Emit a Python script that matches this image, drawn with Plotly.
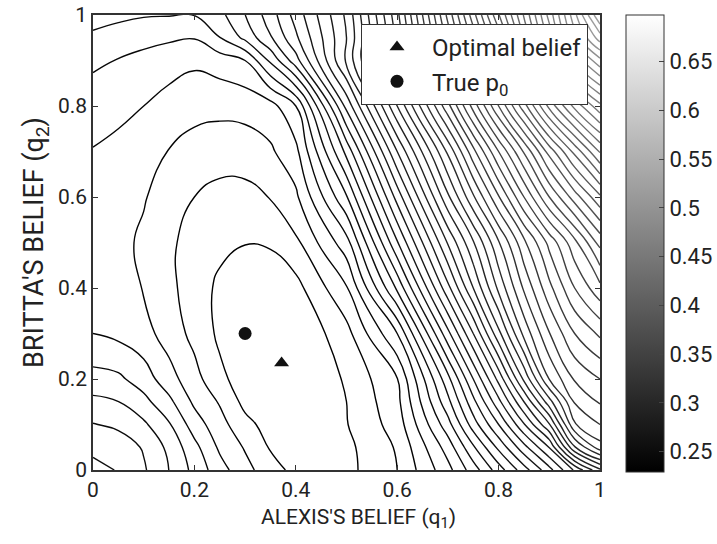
import plotly.graph_objects as go

q1_nodes = [0, 0.05, 0.1, 0.15, 0.2, 0.25, 0.3, 0.35, 0.4, 0.5, 0.6, 0.7, 0.75, 0.8, 0.85, 0.9, 0.95, 1.0]
q2_nodes = [0, 0.05, 0.1, 0.15, 0.2, 0.3, 0.4, 0.5, 0.6, 0.7, 0.8, 0.9, 0.95, 1.0]

# Loss values, one row per q2 node (estimated from the contour lines of the figure)
loss_grid = [
    [0.3016, 0.2991, 0.2921, 0.2824, 0.2715, 0.2604, 0.2513, 0.2436, 0.2375, 0.2375, 0.2485, 0.2712, 0.2868, 0.3038, 0.3212, 0.3390, 0.3603, 0.3828],
    [0.2978, 0.2957, 0.2902, 0.2804, 0.2681, 0.2555, 0.2477, 0.2392, 0.2366, 0.2379, 0.2494, 0.2778, 0.2982, 0.3186, 0.3390, 0.3594, 0.4007, 0.4236],
    [0.2914, 0.2893, 0.2840, 0.2749, 0.2613, 0.2516, 0.2426, 0.2366, 0.2349, 0.2396, 0.2523, 0.2876, 0.3123, 0.3335, 0.3582, 0.3837, 0.4262, 0.4355],
    [0.2846, 0.2826, 0.2766, 0.2676, 0.2553, 0.2477, 0.2375, 0.2345, 0.2328, 0.2400, 0.2545, 0.2970, 0.3225, 0.3480, 0.3760, 0.4066, 0.4364, 0.4449],
    [0.2771, 0.2757, 0.2698, 0.2604, 0.2515, 0.2421, 0.2358, 0.2332, 0.2315, 0.2410, 0.2566, 0.3052, 0.3335, 0.3616, 0.3947, 0.4274, 0.4449, 0.4525],
    [0.2655, 0.2634, 0.2600, 0.2532, 0.2460, 0.2383, 0.2341, 0.2328, 0.2324, 0.2455, 0.2740, 0.3310, 0.3590, 0.3905, 0.4211, 0.4436, 0.4610, 0.4712],
    [0.2617, 0.2600, 0.2566, 0.2506, 0.2443, 0.2383, 0.2349, 0.2349, 0.2370, 0.2562, 0.3012, 0.3565, 0.3845, 0.4121, 0.4368, 0.4585, 0.4780, 0.4925],
    [0.2608, 0.2591, 0.2557, 0.2499, 0.2455, 0.2421, 0.2403, 0.2409, 0.2468, 0.2706, 0.3242, 0.3769, 0.4007, 0.4262, 0.4504, 0.4721, 0.4925, 0.5146],
    [0.2617, 0.2604, 0.2576, 0.2532, 0.2485, 0.2455, 0.2455, 0.2489, 0.2553, 0.2902, 0.3454, 0.3998, 0.4257, 0.4517, 0.4780, 0.5035, 0.5248, 0.5443],
    [0.2651, 0.2634, 0.2604, 0.2567, 0.2540, 0.2528, 0.2532, 0.2557, 0.2630, 0.3106, 0.3675, 0.4202, 0.4497, 0.4780, 0.5044, 0.5324, 0.5571, 0.5809],
    [0.2693, 0.2676, 0.2655, 0.2621, 0.2596, 0.2591, 0.2596, 0.2621, 0.2740, 0.3361, 0.3930, 0.4500, 0.4814, 0.5120, 0.5426, 0.5741, 0.5996, 0.6200],
    [0.2757, 0.2736, 0.2715, 0.2693, 0.2672, 0.2698, 0.2740, 0.2927, 0.3131, 0.3607, 0.4126, 0.4721, 0.5027, 0.5341, 0.5715, 0.6072, 0.6421, 0.6625],
    [0.2804, 0.2783, 0.2766, 0.2753, 0.2744, 0.2823, 0.2931, 0.3072, 0.3233, 0.3590, 0.4126, 0.4814, 0.5154, 0.5494, 0.5877, 0.6251, 0.6616, 0.6863],
    [0.2868, 0.2846, 0.2832, 0.2829, 0.2827, 0.2885, 0.2994, 0.3123, 0.3284, 0.3607, 0.4160, 0.4891, 0.5256, 0.5622, 0.5979, 0.6344, 0.6710, 0.7075],
]

# Contour level settings
level_start = 0.24
level_end = 0.70
level_step = 0.0085
color_min = 0.229
color_max = 0.698

# Markers
optimal_belief_q1 = [0.372]
optimal_belief_q2 = [0.235]
true_p0_q1 = [0.30]
true_p0_q2 = [0.30]

# Axes / colorbar ticks
axis_ticks = [0, 0.2, 0.4, 0.6, 0.8, 1]
axis_ticktext = ["0", "0.2", "0.4", "0.6", "0.8", "1"]
cbar_ticks = [0.25, 0.3, 0.35, 0.4, 0.45, 0.5, 0.55, 0.6, 0.65]
cbar_ticktext = ["0.25", "0.3", "0.35", "0.4", "0.45", "0.5", "0.55", "0.6", "0.65"]

FONT = "Roboto"
line_scale = [[0, "#000000"], [0.35, "#242424"], [0.7, "#5a5a5a"], [1, "#9c9c9c"]]
bar_scale = [[0, "#000000"], [1, "#ffffff"]]

# plot area in pixels (fixed, margins do not auto-expand)
L, R, T, B = 93, 600, 15, 470
PW, PH = R - L, B - T

fig = go.Figure()

fig.add_trace(go.Contour(
    x=q1_nodes, y=q2_nodes, z=loss_grid,
    autocontour=False,
    contours=dict(coloring="lines", start=level_start, end=level_end, size=level_step),
    line=dict(width=1.4, smoothing=1.3),
    colorscale=line_scale, zmin=color_min, zmax=color_max,
    showscale=False, hoverinfo="skip", showlegend=False,
))

# colorbar (continuous gray scale)
fig.add_trace(go.Scatter(
    x=[5], y=[5], mode="markers", showlegend=False, hoverinfo="skip",
    marker=dict(color=[0.5], colorscale=bar_scale, cmin=color_min, cmax=color_max,
                showscale=True, size=1,
                colorbar=dict(x=(626 - L) / PW, xanchor="left", xpad=0,
                              y=(B - 243.5) / PH, yanchor="middle", ypad=0,
                              len=457 / PH, lenmode="fraction", thickness=38,
                              outlinewidth=1, outlinecolor="#333",
                              tickvals=cbar_ticks, ticktext=cbar_ticktext,
                              ticks="inside", ticklen=5, tickcolor="#444",
                              tickfont=dict(family=FONT, size=22, color="#222"))),
))

fig.add_trace(go.Scatter(
    x=optimal_belief_q1, y=optimal_belief_q2, mode="markers", name="Optimal belief",
    marker=dict(symbol="triangle-up", size=13, color="#111"),
))
fig.add_trace(go.Scatter(
    x=true_p0_q1, y=true_p0_q2, mode="markers", name="True p<sub>0</sub>",
    marker=dict(symbol="circle", size=13, color="#111"),
))

axis_common = dict(range=[0, 1], tickvals=axis_ticks, ticktext=axis_ticktext,
                   ticks="inside", ticklen=5, tickcolor="#333", mirror="ticks",
                   showline=True, linecolor="#333", linewidth=1.5,
                   showgrid=False, zeroline=False,
                   tickfont=dict(family=FONT, size=21, color="#222"))

fig.update_layout(
    width=717, height=544,
    margin=dict(l=L, r=717 - R, t=T, b=544 - B, autoexpand=False),
    paper_bgcolor="white", plot_bgcolor="white",
    font=dict(family=FONT, color="#222"),
    xaxis=dict(**axis_common),
    yaxis=dict(**axis_common,
               title=dict(text="BRITTA'S BELIEF (q<sub>2</sub>)", font=dict(family=FONT, size=27), standoff=6)),
    legend=dict(x=(361 - L) / PW, y=(B - 24) / PH, xanchor="left", yanchor="top",
                bgcolor="white", bordercolor="#333", borderwidth=1,
                font=dict(family=FONT, size=24, color="#222"), itemwidth=60,
                tracegroupgap=0),
    annotations=[dict(text="ALEXIS'S BELIEF (q<sub>1</sub>)", xref="paper", yref="paper",
                      x=(358 - L) / PW, y=(B - 518) / PH, xanchor="center", yanchor="middle",
                      showarrow=False, font=dict(family=FONT, size=21, color="#222"))],
)

fig.write_html("out.html")
